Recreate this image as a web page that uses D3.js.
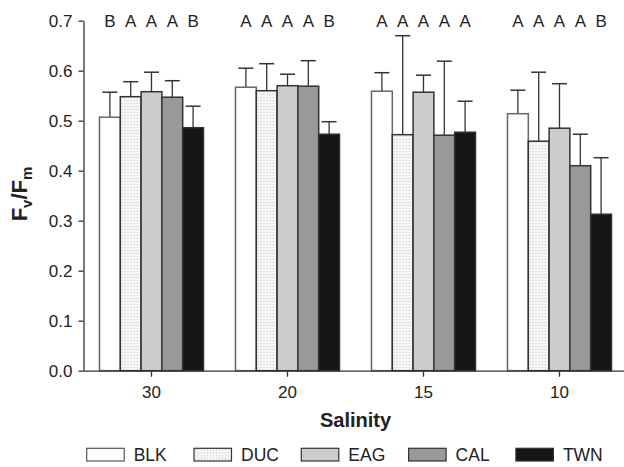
<!DOCTYPE html>
<html>
<head>
<meta charset="utf-8">
<script src="https://cdn.jsdelivr.net/npm/d3@7"></script>
<style>
  body { margin: 0; background: #fff; }
  svg { display: block; font-family: "Liberation Sans", Arial, sans-serif; }
</style>
</head>
<body>
<svg id="drawing_region"></svg>
<script>
// data
const salinity = ["30", "20", "15", "10"];
const lines = ["BLK", "DUC", "EAG", "CAL", "TWN"];
const means = {
    BLK: [0.507, 0.567, 0.559, 0.514],
    DUC: [0.548, 0.560, 0.472, 0.459],
    EAG: [0.558, 0.570, 0.557, 0.485],
    CAL: [0.547, 0.569, 0.471, 0.410],
    TWN: [0.486, 0.473, 0.477, 0.313]
};
const errs = {
    BLK: [0.050, 0.038, 0.037, 0.047],
    DUC: [0.030, 0.054, 0.198, 0.138],
    EAG: [0.039, 0.023, 0.034, 0.089],
    CAL: [0.033, 0.051, 0.148, 0.063],
    TWN: [0.043, 0.025, 0.062, 0.113]
};
const letters = [
    ["B", "A", "A", "A", "B"],
    ["A", "A", "A", "A", "B"],
    ["A", "A", "A", "A", "A"],
    ["A", "A", "A", "A", "B"]
];
const yTicks = [0.0, 0.1, 0.2, 0.3, 0.4, 0.5, 0.6, 0.7];

const fills = { BLK: "#ffffff", DUC: "url(#dots)", EAG: "#cccccc", CAL: "#999999", TWN: "#151515" };

const config = {
    width: 624,
    height: 467,
    margin: { top: 21, right: 0, bottom: 96, left: 83.5 }
};

const svg = d3.select("#drawing_region")
    .attr("width", config.width)
    .attr("height", config.height);

// dotted fill for DUC
const pat = svg.append("defs").append("pattern")
    .attr("id", "dots")
    .attr("width", 3).attr("height", 3)
    .attr("patternUnits", "userSpaceOnUse");
pat.append("rect").attr("width", 3).attr("height", 3).attr("fill", "#f6f6f6");
pat.append("rect").attr("x", 1).attr("y", 1).attr("width", 1).attr("height", 1).attr("fill", "#c8c8c8");

const x0 = config.margin.left, x1 = 627.5;
const y0 = 370.7, yTop = config.margin.top - 0.3;

const xscale = d3.scaleBand()
    .domain(salinity)
    .range([x0, x1])
    .paddingInner(32 / 136)
    .paddingOuter(16 / 136);

const xsub = d3.scaleBand()
    .domain(lines)
    .range([0, xscale.bandwidth()]);

const yscale = d3.scaleLinear()
    .domain([0, 0.7])
    .range([y0, yTop]);

const chart = svg.append("g");

// bars
const groups = chart.selectAll(".grp")
    .data(salinity)
    .enter()
    .append("g")
    .attr("transform", s => `translate(${xscale(s)},0)`);

groups.each(function(s, i) {
    const g = d3.select(this);
    lines.forEach((ln, j) => {
        const v = means[ln][i];
        const e = errs[ln][i];
        const cx = xsub(ln) + xsub.bandwidth() / 2;
        // error bar (upper only)
        g.append("line")
            .attr("x1", cx).attr("x2", cx)
            .attr("y1", yscale(v)).attr("y2", yscale(v + e))
            .attr("stroke", "#333").attr("stroke-width", 1.3);
        g.append("line")
            .attr("x1", cx - 7.5).attr("x2", cx + 7.5)
            .attr("y1", yscale(v + e)).attr("y2", yscale(v + e))
            .attr("stroke", "#333").attr("stroke-width", 1.5);
        g.append("rect")
            .attr("x", xsub(ln))
            .attr("y", yscale(v))
            .attr("width", xsub.bandwidth())
            .attr("height", yscale(0) - yscale(v))
            .attr("fill", fills[ln])
            .attr("stroke", ln === "BLK" ? "#666" : "#333")
            .attr("stroke-width", 1.5);
        // significance letters
        g.append("text")
            .attr("x", cx)
            .attr("y", 26.5)
            .attr("text-anchor", "middle")
            .attr("font-size", "17px")
            .attr("fill", "#222")
            .text(letters[i][j]);
    });
});

// axes
const yaxis = d3.axisLeft(yscale)
    .tickValues(yTicks)
    .tickFormat(d3.format(".1f"))
    .tickSize(5)
    .tickSizeOuter(0)
    .tickPadding(6);

const xaxis = d3.axisBottom(xscale)
    .tickSize(6)
    .tickSizeOuter(0)
    .tickPadding(9);

const yaxis_group = svg.append("g")
    .attr("transform", `translate(${x0},0)`)
    .call(yaxis);

const xaxis_group = svg.append("g")
    .attr("transform", `translate(0,${y0})`)
    .call(xaxis);

[yaxis_group, xaxis_group].forEach(a => {
    a.selectAll("path, line").attr("stroke", "#333").attr("stroke-width", 1.3);
    a.selectAll("text")
        .attr("font-size", "17px")
        .attr("fill", "#222")
        .attr("font-family", "Liberation Sans, Arial, sans-serif");
});

// axis titles
svg.append("text")
    .attr("x", (x0 + x1) / 2)
    .attr("y", 426.5)
    .attr("text-anchor", "middle")
    .attr("font-size", "20px")
    .attr("font-weight", "bold")
    .attr("fill", "#222")
    .text("Salinity");

const ylab = svg.append("text")
    .attr("transform", "translate(27,194) rotate(-90)")
    .attr("text-anchor", "middle")
    .attr("font-size", "22px")
    .attr("font-weight", "bold")
    .attr("fill", "#222");
ylab.append("tspan").text("F");
ylab.append("tspan").attr("font-size", "15px").attr("dy", 5).text("v");
ylab.append("tspan").attr("dy", -5).text("/F");
ylab.append("tspan").attr("font-size", "15px").attr("dy", 5).text("m");

// legend
const legend = svg.append("g")
    .attr("transform", "translate(86.7,448.3)");

const items = legend.selectAll(".item")
    .data(lines)
    .enter()
    .append("g")
    .attr("transform", (d, i) => `translate(${i * 107.3},0)`);

items.append("rect")
    .attr("width", 37.5)
    .attr("height", 12.7)
    .attr("fill", d => fills[d])
    .attr("stroke", d => d === "BLK" ? "#555" : "#333")
    .attr("stroke-width", 1.2);

items.append("text")
    .attr("x", 47)
    .attr("y", 12.7)
    .attr("font-size", "17.5px")
    .attr("fill", "#222")
    .text(d => d);
</script>
</body>
</html>
